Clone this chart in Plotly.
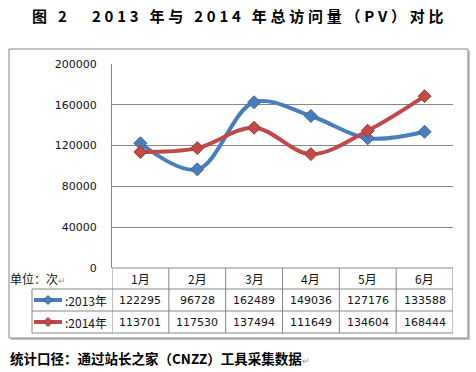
import plotly.graph_objects as go

months = ["1月", "2月", "3月", "4月", "5月", "6月"]
pv_2013 = [122295, 96728, 162489, 149036, 127176, 133588]
pv_2014 = [113701, 117530, 137494, 111649, 134604, 168444]
series_names = [":2013年", ":2014年"]
y_ticks = [0, 40000, 80000, 120000, 160000, 200000]
title_text = "图 2   2013 年与 2014 年总访问量（PV）对比"
footer_text = "统计口径：通过站长之家（CNZZ）工具采集数据"
unit_text = "单位：次"

W, H = 476, 372
L, R, T, B = 112, 453, 64, 268
PW, PH = R - L, B - T


def px(x):
    return (x - L) / PW


def py(y):
    return (B - y) / PH


BLUE = "#4A7EBB"
BLUE_D = "#3A6598"
RED = "#BE4B48"
RED_D = "#9C3936"
GRID = "#868686"
FONT = "DejaVu Sans"
CJK = "Noto Sans CJK SC"
TXT = "#111111"

fig = go.Figure()
for name, vals, c, cd in [(series_names[0], pv_2013, BLUE, BLUE_D), (series_names[1], pv_2014, RED, RED_D)]:
    fig.add_trace(go.Scatter(
        x=months, y=vals, mode="lines+markers", name=name,
        line=dict(color=c, width=4, shape="spline", smoothing=1.0),
        marker=dict(symbol="diamond", size=10, color=c, line=dict(color=cd, width=1)),
        showlegend=False, hoverinfo="skip",
    ))

shapes = []
shapes.append(dict(type="rect", xref="paper", yref="paper", x0=px(11), x1=px(470), y0=py(51), y1=py(340),
                   line=dict(width=0), fillcolor="#c4c4c4", layer="below"))
shapes.append(dict(type="rect", xref="paper", yref="paper", x0=px(9), x1=px(468), y0=py(49), y1=py(338),
                   line=dict(color=GRID, width=1), fillcolor="white", layer="below"))

rows = [268, 289, 311, 333]
shapes.append(dict(type="line", xref="paper", yref="paper", x0=px(L), x1=px(R), y0=py(268), y1=py(268),
                   line=dict(color=GRID, width=1)))
for yy in rows[1:]:
    shapes.append(dict(type="line", xref="paper", yref="paper", x0=px(32), x1=px(R), y0=py(yy), y1=py(yy),
                       line=dict(color=GRID, width=1)))
shapes.append(dict(type="line", xref="paper", yref="paper", x0=px(32), x1=px(32), y0=py(289), y1=py(333),
                   line=dict(color=GRID, width=1)))
for i in range(len(months) + 1):
    shapes.append(dict(type="line", xref="x", yref="paper", x0=i - 0.5, x1=i - 0.5, y0=py(268), y1=py(333),
                       line=dict(color=GRID, width=1)))

SP = "\u2005"
spaced_title = SP.join(list(title_text))

annotations = []
annotations.append(dict(xref="paper", yref="paper", x=px(238), y=py(16), xanchor="center", yanchor="middle",
                        text="<b>" + spaced_title + "</b>", showarrow=False,
                        font=dict(family=CJK, size=15, color="#000000")))
annotations.append(dict(xref="paper", yref="paper", x=px(8), y=py(358), xanchor="left", yanchor="middle",
                        text="<b>" + footer_text + "</b><span style='color:#999999;font-size:9px'>↵</span>",
                        showarrow=False, font=dict(family=CJK, size=13.5, color="#000000")))
annotations.append(dict(xref="paper", yref="paper", x=px(8), y=py(278), xanchor="left", yanchor="middle",
                        text=unit_text + "<span style='color:#999999;font-size:9px'>↵</span>", showarrow=False,
                        font=dict(family=CJK, size=12, color=TXT)))
for m in months:
    annotations.append(dict(xref="x", yref="paper", x=m, y=py(278.5), xanchor="center", yanchor="middle",
                            text=m, showarrow=False, font=dict(family=CJK, size=12, color=TXT)))
for vals, yc in [(pv_2013, 300), (pv_2014, 322)]:
    for m, v in zip(months, vals):
        annotations.append(dict(xref="x", yref="paper", x=m, y=py(yc), xanchor="center", yanchor="middle",
                                text=str(v), showarrow=False, font=dict(family=FONT, size=11, color=TXT)))
for name, c, cd, yc in [(series_names[0], BLUE, BLUE_D, 300), (series_names[1], RED, RED_D, 322)]:
    shapes.append(dict(type="line", xref="paper", yref="paper", x0=px(34), x1=px(62), y0=py(yc), y1=py(yc),
                       line=dict(color=c, width=4)))
    shapes.append(dict(type="path", xref="paper", yref="paper",
                       path=f"M {px(48)},{py(yc-4.5)} L {px(52.5)},{py(yc)} L {px(48)},{py(yc+4.5)} L {px(43.5)},{py(yc)} Z",
                       fillcolor=c, line=dict(color=cd, width=1)))
    annotations.append(dict(xref="paper", yref="paper", x=px(63), y=py(yc), xanchor="left", yanchor="middle",
                            text=name, showarrow=False, font=dict(family=CJK, size=12, color=TXT)))

fig.update_layout(
    width=W, height=H,
    margin=dict(l=L, r=W - R, t=T, b=H - B, pad=0),
    paper_bgcolor="white", plot_bgcolor="rgba(0,0,0,0)",
    shapes=shapes, annotations=annotations,
    xaxis=dict(type="category", range=[-0.5, 5.5], showticklabels=False, showgrid=False,
               zeroline=False, showline=False, ticks=""),
    yaxis=dict(range=[0, 200000], tickvals=y_ticks, ticktext=[str(v) for v in y_ticks],
               showgrid=True, gridcolor=GRID, gridwidth=1, zeroline=False,
               showline=True, linecolor=GRID, linewidth=1, ticks="", ticklabelstandoff=12,
               tickfont=dict(family=FONT, size=11, color=TXT)),
)

fig.write_html("out.html", config={"displayModeBar": False},
               post_script="document.body.style.margin='0';")
